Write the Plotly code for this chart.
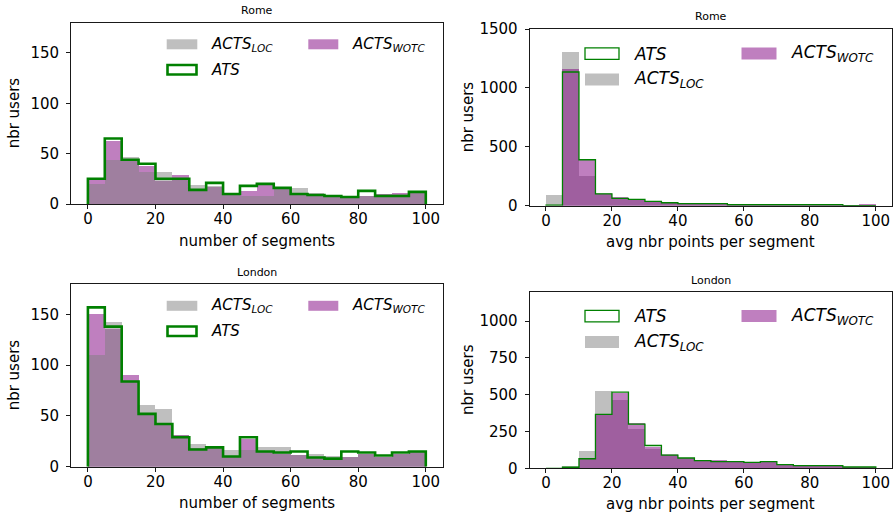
import plotly.graph_objects as go

W, H = 893, 519

# ---- data (20 bins of width 5 from 0 to 100) ----
bin_edges = [0, 5, 10, 15, 20, 25, 30, 35, 40, 45, 50, 55, 60, 65, 70, 75, 80, 85, 90, 95, 100]

rome_seg_ats = [25, 65, 44, 40, 25, 25, 14, 21, 10, 18, 20, 16, 10, 9, 8, 7, 13, 8, 8, 12]
rome_seg_wotc = [24, 63, 45, 38, 23, 29, 15, 17, 10, 13, 19, 16, 10, 9, 8, 7, 8, 10, 11, 11]
rome_seg_loc = [20, 44, 47, 32, 32, 24, 19, 18, 10, 8, 8, 17, 16, 11, 8, 7, 8, 10, 10, 11]

rome_pts_ats = [5, 1135, 390, 101, 62, 53, 37, 25, 17, 17, 17, 8, 8, 8, 8, 8, 8, 8, 0, 0]
rome_pts_wotc = [0, 1158, 390, 100, 70, 53, 37, 34, 17, 15, 15, 8, 8, 8, 8, 8, 8, 8, 3, 14]
rome_pts_loc = [93, 1304, 250, 104, 66, 48, 33, 25, 15, 12, 12, 8, 8, 8, 8, 8, 8, 8, 3, 5]

lon_seg_ats = [157, 138, 84, 52, 42, 29, 17, 19, 10, 29, 15, 14, 15, 9, 8, 15, 14, 11, 14, 15]
lon_seg_wotc = [150, 136, 90, 52, 42, 31, 18, 18, 10, 27, 15, 13, 12, 9, 8, 10, 13, 10, 13, 14]
lon_seg_loc = [110, 143, 84, 61, 57, 31, 22, 19, 16, 16, 19, 19, 12, 13, 11, 10, 13, 10, 13, 14]

lon_pts_ats = [0, 7, 65, 367, 518, 300, 155, 90, 70, 52, 45, 45, 40, 45, 25, 18, 18, 18, 9, 9]
lon_pts_wotc = [0, 5, 63, 367, 510, 308, 146, 88, 72, 56, 56, 45, 40, 42, 25, 18, 18, 16, 9, 9]
lon_pts_loc = [0, 15, 120, 522, 462, 266, 128, 95, 70, 52, 48, 45, 40, 40, 25, 18, 18, 16, 9, 9]

titles = ["Rome", "Rome", "London", "London"]
xlabels = ["number of segments", "avg nbr points per segment",
           "number of segments", "avg nbr points per segment"]
ylabel = "nbr users"
xticks = [0, 20, 40, 60, 80, 100]
yticks_list = [[0, 50, 100, 150], [0, 500, 1000, 1500], [0, 50, 100, 150], [0, 250, 500, 750, 1000]]
ylims = [180, 1500, 180, 1200]

GRAY = "rgba(128,128,128,0.5)"
PURPLE = "rgba(128,0,128,0.5)"
GREEN = "#008000"
FONT = "DejaVu Sans"

panels = [
    (rome_seg_ats, rome_seg_wotc, rome_seg_loc, "left"),
    (rome_pts_ats, rome_pts_wotc, rome_pts_loc, "right"),
    (lon_seg_ats, lon_seg_wotc, lon_seg_loc, "left"),
    (lon_pts_ats, lon_pts_wotc, lon_pts_loc, "right"),
]

# axes boxes in pixels: (x0, x1, ytop, ybottom)
boxes = [(71, 442.7, 22.7, 204.0), (529.5, 892.3, 29.0, 205.7),
         (71, 442.7, 284.0, 466.7), (529.5, 892.3, 291.7, 468.3)]

def px(x):
    return x / W

def py(y):
    return 1 - y / H

centers = [(bin_edges[i] + bin_edges[i + 1]) / 2 for i in range(len(bin_edges) - 1)]

fig = go.Figure()
layout = dict(width=W, height=H, margin=dict(l=0, r=0, t=0, b=0, pad=0),
              paper_bgcolor="white", plot_bgcolor="white",
              barmode="overlay", bargap=0, showlegend=False, hovermode=False,
              font=dict(family=FONT, size=15, color="black"))

for i, (ats, wotc, loc, side) in enumerate(panels):
    n = "" if i == 0 else str(i + 1)
    xa, ya = "x" + n, "y" + n
    if side == "left":
        order = [(wotc, PURPLE), (loc, GRAY)]
        lw = 2.6
    else:
        order = [(loc, GRAY), (wotc, PURPLE)]
        lw = 1.3
    for vals, col in order:
        fig.add_trace(go.Bar(x=centers, y=vals, width=5, marker=dict(color=col, line=dict(width=0)),
                             xaxis=xa, yaxis=ya))
    sx = [bin_edges[0]] + bin_edges[:-1] + [bin_edges[-1], bin_edges[-1]]
    sy = [0] + ats + [ats[-1], 0]
    fig.add_trace(go.Scatter(x=sx, y=sy, mode="lines", line=dict(color=GREEN, width=lw, shape="hv"),
                             xaxis=xa, yaxis=ya))
    x0, x1, yt, yb = boxes[i]
    axcommon = dict(showline=True, mirror=True, linecolor="black", linewidth=0.9,
                    ticks="outside", ticklen=4, tickwidth=0.9, tickcolor="black",
                    showgrid=False, zeroline=False, automargin=False,
                    tickfont=dict(size=15, family=FONT, color="black"))
    layout["xaxis" + n] = dict(domain=[px(x0), px(x1)], range=[-5, 105], anchor=ya,
                               tickvals=xticks, ticklabelstandoff=-3, **axcommon)
    layout["yaxis" + n] = dict(domain=[py(yb), py(yt)], range=[0, ylims[i]], anchor=xa,
                               tickvals=yticks_list[i], ticklabelstandoff=4, **axcommon)

annotations = []
shapes = []

# titles and axis labels
title_pos = [(256.8, 11), (711, 17), (256.8, 272), (711, 280)]
xlab_y = [240.5, 242, 503, 504]
ylab_x = [14, 468, 14, 468]
for i in range(4):
    x0, x1, yt, yb = boxes[i]
    annotations.append(dict(text=titles[i], x=px(title_pos[i][0]), y=py(title_pos[i][1]),
                            xref="paper", yref="paper", showarrow=False,
                            xanchor="center", yanchor="middle", font=dict(size=11, family=FONT)))
    annotations.append(dict(text=xlabels[i], x=px((x0 + x1) / 2), y=py(xlab_y[i]),
                            xref="paper", yref="paper", showarrow=False,
                            xanchor="center", yanchor="middle", font=dict(size=15, family=FONT)))
    annotations.append(dict(text=ylabel, x=px(ylab_x[i]), y=py((yt + yb) / 2),
                            xref="paper", yref="paper", showarrow=False, textangle=-90,
                            xanchor="center", yanchor="middle", font=dict(size=15, family=FONT)))

# legends
LOC_TXT = "<i>ACTS<sub>LOC</sub></i>"
WOTC_TXT = "<i>ACTS<sub>WOTC</sub></i>"
ATS_TXT = "<i>ATS</i>"

def legend_entry(x0, y0, w, h, kind, text, tx, fs, lw):
    if kind == "ats":
        shapes.append(dict(type="rect", xref="paper", yref="paper",
                           x0=px(x0), x1=px(x0 + w), y0=py(y0 + h), y1=py(y0),
                           fillcolor="white", line=dict(color=GREEN, width=lw)))
    else:
        shapes.append(dict(type="rect", xref="paper", yref="paper",
                           x0=px(x0), x1=px(x0 + w), y0=py(y0 + h), y1=py(y0),
                           fillcolor=GRAY if kind == "loc" else PURPLE, line=dict(width=0)))
    annotations.append(dict(text=text, x=px(tx), y=py(y0 + h / 2), xref="paper", yref="paper",
                            showarrow=False, xanchor="left", yanchor="middle",
                            font=dict(size=fs, family=FONT)))

# left panels
for off in (0, 261.5):
    legend_entry(166.7, 39.3 + off, 30.6, 10, "loc", LOC_TXT, 209, 15, 0)
    legend_entry(308.3, 39.3 + off, 30, 10, "wotc", WOTC_TXT, 350, 15, 0)
    legend_entry(167.5, 65 + off, 29, 9.5, "ats", ATS_TXT, 209, 15, 2.6)
# right panels
for off in (0, 262.5):
    legend_entry(585, 47.8 + off, 34, 11.5, "ats", ATS_TXT, 632, 17, 1.3)
    legend_entry(585, 73.5 + off, 34, 12, "loc", LOC_TXT, 632, 17, 0)
    legend_entry(741.5, 47.5 + off, 35, 12, "wotc", WOTC_TXT, 789, 17, 0)

layout["annotations"] = annotations
layout["shapes"] = shapes
fig.update_layout(**layout)
fig.write_html("out.html", config={"displayModeBar": False, "staticPlot": True},
               post_script="document.body.style.margin='0';document.body.style.padding='0';"
                           "document.documentElement.style.overflow='hidden';")
